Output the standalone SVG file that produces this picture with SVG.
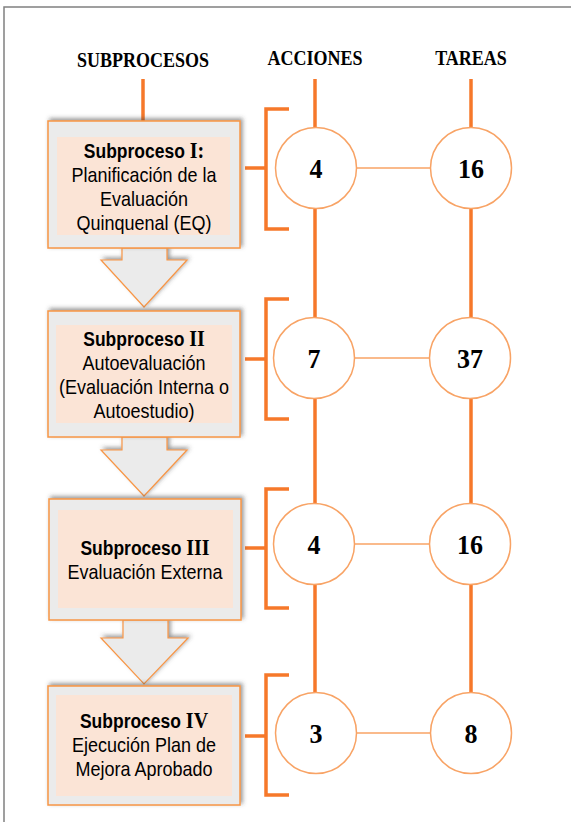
<svg xmlns="http://www.w3.org/2000/svg" width="571" height="822" viewBox="0 0 571 822">
<defs>
<filter id="sh" x="-10%" y="-10%" width="120%" height="120%">
<feDropShadow dx="2" dy="-2" stdDeviation="2" flood-color="#404040" flood-opacity="0.55"/>
</filter>
<style>
.frame{fill:none;stroke:#808080;stroke-width:1.5}
.hd{font-family:"Liberation Serif","Times New Roman",serif;font-weight:bold;font-size:18px;text-anchor:middle;fill:#000}
.box{fill:#ebebeb;stroke:#f79646;stroke-width:1.5}
.inner{fill:#fbe4d6}
.arrow{fill:#ebebeb;stroke:#f79646;stroke-width:1.2}
.t{font-family:"Liberation Sans",Arial,sans-serif;font-size:18px;text-anchor:middle;fill:#000}
.b{font-weight:bold;font-size:17.5px}
.rn{font-family:"Liberation Serif","Times New Roman",serif;font-weight:bold;font-size:20px}
.thick{stroke:#f6782a;stroke-width:3.5;fill:none}
.thin{stroke:#f8a365;stroke-width:1.5;fill:none}
.circ{fill:#fff;stroke:#f8a365;stroke-width:1.5}
.num{font-family:"Liberation Serif","Times New Roman",serif;font-weight:bold;font-size:26px;text-anchor:middle;fill:#000}
</style>
</defs>
<rect class="frame" x="4" y="7" width="600" height="850"/>
<g id="headers">
<text class="hd" transform="translate(143 67) scale(1 1.2)">SUBPROCESOS</text>
<text class="hd" transform="translate(315 65) scale(1 1.2)">ACCIONES</text>
<text class="hd" transform="translate(471 65) scale(1 1.2)">TAREAS</text>
</g>
<g id="connectors">
<line class="thick" x1="143" y1="79" x2="143" y2="121"/>
<line class="thick" x1="315" y1="79" x2="315" y2="692"/>
<line class="thick" x1="471" y1="79" x2="471" y2="692"/>
<path class="thick" d="M245 168H266M289 109H266V229H289"/>
<path class="thick" d="M245 359H266M289 299H266V419H289"/>
<path class="thick" d="M245 548H266M289 489H266V608H289"/>
<path class="thick" d="M245 736H266M289 675H266V795H289"/>
<line class="thin" x1="356" y1="168" x2="430" y2="168"/>
<line class="thin" x1="355" y1="358" x2="429" y2="358"/>
<line class="thin" x1="355" y1="544" x2="429" y2="544"/>
<line class="thin" x1="356" y1="733" x2="430" y2="733"/>
</g>
<g id="arrows" filter="url(#sh)">
<path class="arrow" d="M122 248V260H101L144 307L187 260H167V248Z"/>
<path class="arrow" d="M122 437V450H101L144 496L187 450H167V437Z"/>
<path class="arrow" d="M123 620V638H101L144 684L188 638H168V620Z"/>
</g>
<g id="sub1">
<rect class="box" x="48" y="121" width="192" height="127" filter="url(#sh)"/>
<rect class="inner" x="57" y="137" width="173" height="98"/>
<text class="t" transform="translate(144 158) scale(1 1.15)"><tspan class="b">Subproceso </tspan><tspan class="rn">I:</tspan></text>
<text class="t" transform="translate(144 182) scale(1 1.15)">Planificación de la</text>
<text class="t" transform="translate(144 206) scale(1 1.15)">Evaluación</text>
<text class="t" transform="translate(144 230) scale(1 1.15)">Quinquenal (EQ)</text>
</g>
<g id="sub2">
<rect class="box" x="48" y="311" width="192" height="126" filter="url(#sh)"/>
<rect class="inner" x="56" y="325" width="176" height="98"/>
<text class="t" transform="translate(144 346) scale(1 1.15)"><tspan class="b">Subproceso </tspan><tspan class="rn">II</tspan></text>
<text class="t" transform="translate(144 370) scale(1 1.15)">Autoevaluación</text>
<text class="t" transform="translate(144 394) scale(1 1.15)">(Evaluación Interna o</text>
<text class="t" transform="translate(144 418) scale(1 1.15)">Autoestudio)</text>
</g>
<g id="sub3">
<rect class="box" x="49" y="499" width="192" height="121" filter="url(#sh)"/>
<rect class="inner" x="58" y="510" width="175" height="98"/>
<text class="t" transform="translate(145 555) scale(1 1.15)"><tspan class="b">Subproceso </tspan><tspan class="rn">III</tspan></text>
<text class="t" transform="translate(145 579) scale(1 1.15)">Evaluación Externa</text>
</g>
<g id="sub4">
<rect class="box" x="48" y="686" width="192" height="119" filter="url(#sh)"/>
<rect class="inner" x="56" y="695" width="176" height="101"/>
<text class="t" transform="translate(144 728) scale(1 1.15)"><tspan class="b">Subproceso </tspan><tspan class="rn">IV</tspan></text>
<text class="t" transform="translate(144 752) scale(1 1.15)">Ejecución Plan de</text>
<text class="t" transform="translate(144 776) scale(1 1.15)">Mejora Aprobado</text>
</g>
<g id="a1"><circle class="circ" cx="316" cy="168" r="40.5"/><text class="num" transform="translate(316 178) scale(1 1.05)">4</text></g>
<g id="t1"><circle class="circ" cx="471" cy="168" r="40.5"/><text class="num" transform="translate(471 178) scale(1 1.05)">16</text></g>
<g id="a2"><circle class="circ" cx="314" cy="358" r="40.5"/><text class="num" transform="translate(314 368) scale(1 1.05)">7</text></g>
<g id="t2"><circle class="circ" cx="470" cy="358" r="40.5"/><text class="num" transform="translate(470 368) scale(1 1.05)">37</text></g>
<g id="a3"><circle class="circ" cx="314" cy="544" r="40.5"/><text class="num" transform="translate(314 554) scale(1 1.05)">4</text></g>
<g id="t3"><circle class="circ" cx="470" cy="544" r="40.5"/><text class="num" transform="translate(470 554) scale(1 1.05)">16</text></g>
<g id="a4"><circle class="circ" cx="316" cy="733" r="40.5"/><text class="num" transform="translate(316 743) scale(1 1.05)">3</text></g>
<g id="t4"><circle class="circ" cx="471" cy="733" r="40.5"/><text class="num" transform="translate(471 743) scale(1 1.05)">8</text></g>
</svg>
